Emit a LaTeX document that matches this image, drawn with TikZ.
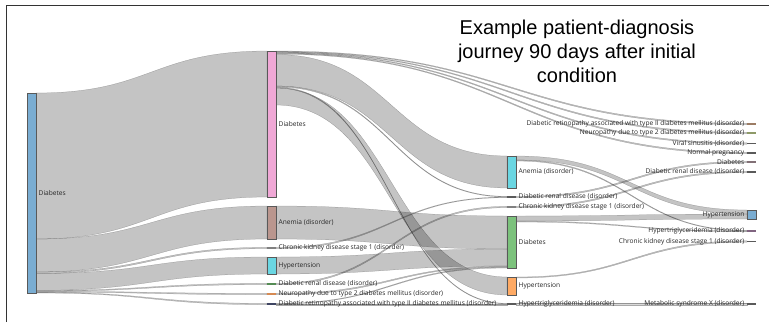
\documentclass[tikz,border=0pt]{standalone}
\usepackage{fontspec}
\setmainfont{Open Sans}
\newfontfamily\titlefont{Liberation Sans}
\usetikzlibrary{positioning, calc, backgrounds}

\definecolor{DiabBlue}{RGB}{122,173,210}
\definecolor{DiabPink}{RGB}{240,168,214}
\definecolor{AnemBrown}{RGB}{186,150,142}
\definecolor{HypCyan}{RGB}{106,214,226}
\definecolor{RenalGreen}{RGB}{84,140,84}
\definecolor{NeuroOrange}{RGB}{214,138,82}
\definecolor{RetinNavy}{RGB}{62,68,98}
\definecolor{DiabGreen}{RGB}{124,194,124}
\definecolor{HypOrange}{RGB}{255,170,100}
\definecolor{RetinBrown}{RGB}{156,124,100}
\definecolor{NeuroOlive}{RGB}{142,154,104}
\definecolor{MauveGrey}{RGB}{130,112,118}
\definecolor{PurpleGrey}{RGB}{128,100,128}
\definecolor{BarGrey}{RGB}{90,90,90}

\tikzset{
    box/.style={rectangle, draw=black!65, line width=.4pt, minimum width=9pt, inner sep=0, outer sep=0, anchor=north west},
    bar/.style={rectangle, minimum width=9pt, minimum height=1.3pt, inner sep=0, outer sep=0, anchor=west, fill=BarGrey},
    lbl/.style={font=\fontsize{6.6}{8}\selectfont, text=black!85, inner sep=1pt},
    flow/.style={fill=black, fill opacity=.23, draw=black!75, draw opacity=.45, line width=.25pt},
    title/.style={font=\titlefont\fontsize{20}{24}\selectfont, align=center},
    frame/.style={draw=black!80, line width=.8pt},
}

% band between two nodes: source, top, bottom, target, top, bottom (offsets from north)
\newcommand{\flowband}[6]{%
  \path[flow] let \p1=($(#1.north east)+(0,#2)$), \p2=($(#4.north west)+(0,#5)$),
    \p3=($(#1.north east)+(0,#3)$), \p4=($(#4.north west)+(0,#6)$),
    \n1={0.5*(\x2-\x1)} in
    (\p1) .. controls +(\n1,0) and +(-\n1,0) .. (\p2) -- (\p4)
    .. controls +(-\n1,0) and +(\n1,0) .. (\p3) -- cycle;}

\begin{document}
\begin{tikzpicture}[x=1pt, y=-1pt, label distance=1.5pt]
\useasboundingbox (0,0) rectangle (769,322);

\draw[frame] (6.5,322) -- (6.5,5.5) -- (769,5.5);
\node[title] (ttl) at (577,51) {Example patient-diagnosis\\journey 90 days after initial\\condition};

% first step
\node[box, fill=DiabBlue, minimum height=200pt, label={[lbl]right:Diabetes}] (dA) at (27,93) {};

% second step
\node[box, fill=DiabPink, minimum height=146pt, label={[lbl]right:Diabetes}] (dB) at (267,51) {};
\node[box, fill=AnemBrown, minimum height=33pt, label={[lbl]right:Anemia (disorder)}] (anB) at (267,206) {};
\node[bar, fill=gray, label={[lbl]right:Chronic kidney disease stage 1 (disorder)}] (ckB) at (267,248) {};
\node[box, fill=HypCyan, minimum height=17pt, label={[lbl]right:Hypertension}] (hyB) at (267,257) {};
\node[bar, fill=RenalGreen, label={[lbl]right:Diabetic renal disease (disorder)}] (rnB) at (267,284) {};
\node[bar, fill=NeuroOrange, label={[lbl]right:Neuropathy due to type 2 diabetes mellitus (disorder)}] (neB) at (267,294) {};
\node[bar, fill=RetinNavy, label={[lbl]right:Diabetic retinopathy associated with type II diabetes mellitus (disorder)}] (reB) at (267,304) {};

% third step
\node[box, fill=HypCyan, minimum height=32pt, label={[lbl]right:Anemia (disorder)}] (anC) at (507,156) {};
\node[bar, label={[lbl]right:Diabetic renal disease (disorder)}] (rnC) at (507,197) {};
\node[bar, fill=gray, label={[lbl]right:Chronic kidney disease stage 1 (disorder)}] (ckC) at (507,207) {};
\node[box, fill=DiabGreen, minimum height=52pt, label={[lbl]right:Diabetes}] (gnC) at (507,216) {};
\node[box, fill=HypOrange, minimum height=18pt, label={[lbl]right:Hypertension}] (hyC) at (507,277) {};
\node[bar, label={[lbl]right:Hypertriglyceridemia (disorder)}] (htC) at (507,304) {};

% fourth step
\node[bar, fill=RetinBrown, label={[lbl]left:Diabetic retinopathy associated with type II diabetes mellitus (disorder)}] (reD) at (747,124) {};
\node[bar, fill=NeuroOlive, label={[lbl]left:Neuropathy due to type 2 diabetes mellitus (disorder)}] (neD) at (747,133) {};
\node[bar, label={[lbl]left:Viral sinusitis (disorder)}] (viD) at (747,143.5) {};
\node[bar, label={[lbl]left:Normal pregnancy}] (npD) at (747,153) {};
\node[bar, fill=MauveGrey, label={[lbl]left:Diabetes}] (dD) at (747,162) {};
\node[bar, label={[lbl]left:Diabetic renal disease (disorder)}] (rrD) at (747,172) {};
\node[box, fill=DiabBlue, minimum height=9pt, label={[lbl]left:Hypertension}] (hyD) at (747,210) {};
\node[bar, fill=PurpleGrey, label={[lbl]left:Hypertriglyceridemia (disorder)}] (htD) at (747,231) {};
\node[bar, label={[lbl]left:Chronic kidney disease stage 1 (disorder)}] (ckD) at (747,241.5) {};
\node[bar, label={[lbl]left:Metabolic syndrome X (disorder)}] (msD) at (747,304) {};

\begin{pgfonlayer}{background}
\flowband{dA}{0}{146}{dB}{0}{146}
\flowband{dA}{146}{179}{anB}{0}{33}
\flowband{dA}{179}{180.4}{ckB}{0}{1.3}
\flowband{dA}{180.4}{197.4}{hyB}{0}{17}
\flowband{dA}{197.4}{198.3}{rnB}{0}{1.3}
\flowband{dA}{198.3}{199.2}{neB}{0}{1.3}
\flowband{dA}{199.2}{200}{reB}{0}{1.3}

\flowband{dB}{0}{.8}{reD}{0}{1.3}
\flowband{dB}{.8}{1.6}{neD}{0}{1.3}
\flowband{dB}{1.6}{2.4}{viD}{0}{1.3}
\flowband{dB}{2.4}{3.2}{npD}{0}{1.3}
\flowband{dB}{3.5}{35}{anC}{0}{32}
\flowband{dB}{35}{36}{rnC}{0}{.65}
\flowband{dB}{36}{37}{htC}{0}{.65}
\flowband{dB}{37}{54}{hyC}{0}{18}
\flowband{anB}{0}{33}{gnC}{0}{33}
\flowband{ckB}{0}{1.3}{rnC}{.65}{1.3}
\flowband{hyB}{0}{17}{gnC}{33}{50}
\flowband{rnB}{0}{1.3}{ckC}{0}{1.3}
\flowband{neB}{0}{1.3}{gnC}{50}{51}
\flowband{reB}{0}{.65}{gnC}{51}{52}
\flowband{reB}{.65}{1.3}{htC}{.65}{1.3}

\flowband{anC}{0}{4}{hyD}{0}{4}
\flowband{anC}{4}{5}{htD}{0}{.65}
\flowband{rnC}{0}{1.3}{dD}{0}{1.3}
\flowband{ckC}{0}{1.3}{rrD}{0}{1.3}
\flowband{gnC}{0}{5}{hyD}{4}{9}
\flowband{gnC}{5}{6}{htD}{.65}{1.3}
\flowband{hyC}{0}{1}{ckD}{0}{1.3}
\flowband{htC}{0}{1.3}{msD}{0}{1.3}
\end{pgfonlayer}
\end{tikzpicture}
\end{document}
